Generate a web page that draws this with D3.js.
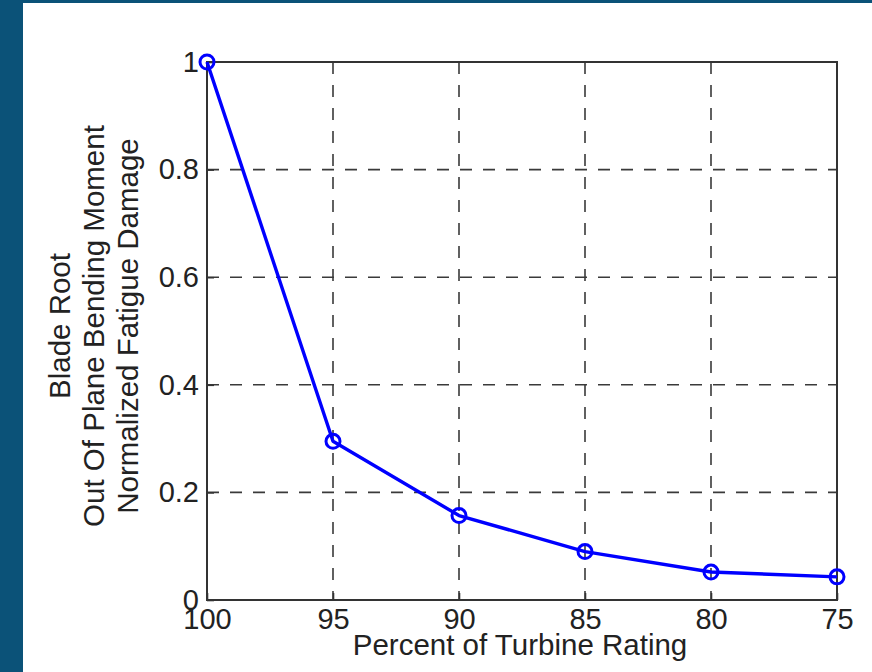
<!DOCTYPE html>
<html lang="en">
<head>
<meta charset="UTF-8">
<title>Blade root fatigue damage</title>
<script src="https://d3js.org/d3.v7.min.js"></script>
<style>
  html, body { margin: 0; padding: 0; background: #0b5278; }
  text { font-family: Arial, "Liberation Sans", sans-serif; fill: #222; }
</style>
</head>
<body>
<div id="chart"></div>
<script>
// data
var rating = [100, 95, 90, 85, 80, 75];
var damage = [1, 0.295, 0.157, 0.09, 0.052, 0.043];
var xTicks = [100, 95, 90, 85, 80, 75];
var yTicks = [0, 0.2, 0.4, 0.6, 0.8, 1];
var yLabelLines = ["Blade Root", "Out Of Plane Bending Moment", "Normalized Fatigue Damage"];
var xLabel = "Percent of Turbine Rating";

var W = 872, H = 672;
var plot = {left: 207, right: 837, top: 62, bottom: 600};

var svg = d3.select("#chart").append("svg")
  .attr("width", W)
  .attr("height", H)
  .style("display", "block");

// teal frame + white page
svg.append("rect").attr("width", W).attr("height", H).attr("fill", "#0b5278");
svg.append("rect").attr("x", 23).attr("y", 3).attr("width", W - 23).attr("height", H - 3).attr("fill", "#fff");

var x = d3.scaleLinear().domain([100, 75]).range([plot.left, plot.right]);
var y = d3.scaleLinear().domain([0, 1]).range([plot.bottom, plot.top]);

// dashed grid
var grid = svg.append("g").attr("stroke", "#3a3a3a").attr("stroke-width", 1.6).attr("stroke-dasharray", "12,11");
grid.selectAll(".gx").data(xTicks.slice(1, -1)).enter().append("line")
  .attr("x1", function(d) { return x(d); }).attr("x2", function(d) { return x(d); })
  .attr("y1", plot.top).attr("y2", plot.bottom);
grid.selectAll(".gy").data(yTicks.slice(1, -1)).enter().append("line")
  .attr("x1", plot.left).attr("x2", plot.right)
  .attr("y1", function(d) { return y(d); }).attr("y2", function(d) { return y(d); });

// axes (ticks inward, like matlab)
var xAxis = svg.append("g")
  .attr("transform", "translate(0," + plot.bottom + ")")
  .call(d3.axisBottom(x).tickValues(xTicks).tickSize(-7).tickPadding(14).tickFormat(d3.format("d")));
var yAxis = svg.append("g")
  .attr("transform", "translate(" + plot.left + ",0)")
  .call(d3.axisLeft(y).tickValues(yTicks).tickSize(-7).tickPadding(8).tickFormat(function(d) { return d3.format("~g")(d); }));

[xAxis, yAxis].forEach(function(a) {
  a.select(".domain").remove();
  a.selectAll(".tick line").attr("stroke", "#333").attr("stroke-width", 1.6);
  a.selectAll(".tick text").style("font-size", "29px").attr("fill", "#222")
    .style("font-family", "Arial, 'Liberation Sans', sans-serif");
});
xAxis.selectAll(".tick text").attr("dy", "0.71em").attr("y", 8);

// box
svg.append("rect")
  .attr("x", plot.left).attr("y", plot.top)
  .attr("width", plot.right - plot.left).attr("height", plot.bottom - plot.top)
  .attr("fill", "none").attr("stroke", "#333").attr("stroke-width", 2);

// series
var pts = rating.map(function(r, i) { return [r, damage[i]]; });
svg.append("path")
  .datum(pts)
  .attr("fill", "none")
  .attr("stroke", "#0000ff")
  .attr("stroke-width", 3.4)
  .attr("stroke-linejoin", "round")
  .attr("d", d3.line().x(function(d) { return x(d[0]); }).y(function(d) { return y(d[1]); }));

svg.selectAll(".marker").data(pts).enter().append("circle")
  .attr("cx", function(d) { return x(d[0]); })
  .attr("cy", function(d) { return y(d[1]); })
  .attr("r", 7)
  .attr("fill", "none")
  .attr("stroke", "#0000ff")
  .attr("stroke-width", 3);

// axis labels
svg.append("text")
  .attr("x", (plot.left + plot.right) / 2 - 2)
  .attr("y", 655)
  .attr("text-anchor", "middle")
  .style("font-size", "29.5px")
  .text(xLabel);

var ylab = svg.append("g").attr("transform", "translate(0," + ((plot.top + plot.bottom) / 2 - 5) + ") rotate(-90)");
ylab.selectAll("text").data(yLabelLines).enter().append("text")
  .attr("x", 0)
  .attr("y", function(d, i) { return 70 + i * 34; })
  .attr("text-anchor", "middle")
  .style("font-size", "29.5px")
  .text(function(d) { return d; });
</script>
</body>
</html>
